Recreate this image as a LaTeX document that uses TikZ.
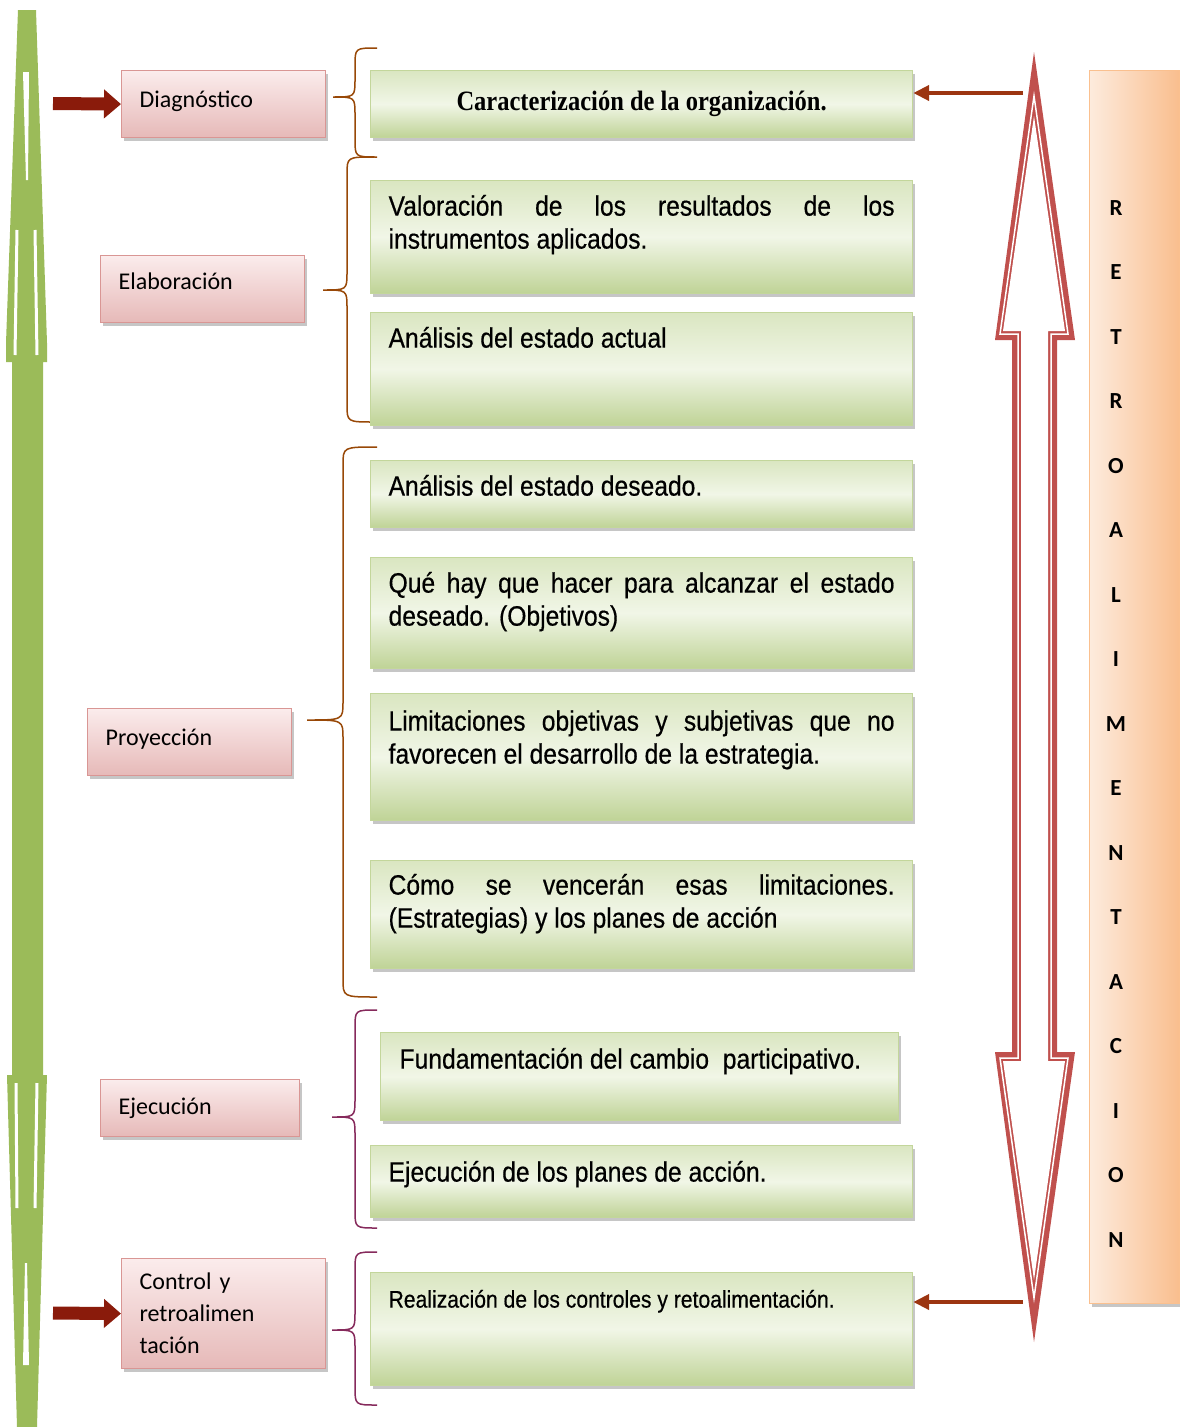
\documentclass[tikz,border=0pt]{standalone}
\usepackage{fontspec}
\setmainfont{Carlito}
\newfontfamily\boxfont[FakeStretch=0.88,FakeBold=0.5]{Liberation Sans}
\newfontfamily\serfont[FakeStretch=0.875]{Liberation Serif}
\usetikzlibrary{arrows.meta,shadows}
\definecolor{darkarrow}{HTML}{8A1B0B}
\definecolor{rarrow}{HTML}{9C3511}
\definecolor{pinkborder}{HTML}{D99694}
\definecolor{pinktop}{HTML}{FBECEC}
\definecolor{pinkbot}{HTML}{E6B9B8}
\definecolor{greenborder}{HTML}{C3D69B}
\definecolor{greentop}{HTML}{DAE6C1}
\definecolor{greenmid}{HTML}{F1F6E7}
\definecolor{greenbot}{HTML}{BFD396}
\definecolor{orangelight}{HTML}{FDEBDD}
\definecolor{orangedark}{HTML}{F9BE8E}
\definecolor{orangeborder}{HTML}{FAC08F}
\definecolor{redarrow}{HTML}{C0504D}
\definecolor{greenbar}{HTML}{9BBB59}
\definecolor{bracebrown}{HTML}{984807}
\definecolor{bracepurple}{HTML}{862A5C}
\newcommand\gtext[4]{\parbox[t][#1][t]{#2}{\hyphenpenalty=10000\exhyphenpenalty=10000\rule{0pt}{#3}#4}}
\newcommand\wbrace[7]{\draw[#7, line width=1.5pt] (#1,#4) .. controls (#2,#4) .. (#2,#4+18) -- (#2,#5-18) .. controls (#2,#5) .. (#3,#5) .. controls (#2,#5) .. (#2,#5+18) -- (#2,#6-18) .. controls (#2,#6) .. (#1,#6);}
\tikzset{
  shadowed/.style={drop shadow={shadow xshift=2pt,shadow yshift=-3pt,fill=gray!45,opacity=1}},
  pinkbox/.style={draw=pinkborder, line width=1.2pt, top color=pinktop, bottom color=pinkbot, shadowed,
    anchor=north west, inner xsep=18pt, inner ysep=0pt, text width=#1, align=left,
    font=\fontsize{24}{32}\selectfont, minimum height=67pt},
  greenbox/.style={draw=greenborder, line width=1.2pt, top color=greentop, bottom color=greenbot, middle color=greenmid, shadowed,
    anchor=north west, inner xsep=18pt, inner ysep=0pt, font=\boxfont\fontsize{28}{33}\selectfont},
  blockarrow/.style={draw=darkarrow, line width=13pt, -{Triangle[length=17pt,width=28pt]}},
  thinarrow/.style={draw=rarrow, line width=4.5pt, -{Triangle[length=16pt,width=15pt]}},
  orangebox/.style={draw=orangeborder, line width=1pt, left color=orangelight, right color=orangedark, shadowed,
    anchor=north west, minimum width=90pt, minimum height=1233pt, inner sep=0pt},
  letters/.style={font=\bfseries\fontsize{23}{64.5}\selectfont, align=center, inner sep=0pt}
}
\begin{document}
\begin{tikzpicture}[x=1pt,y=-1pt]
\useasboundingbox (0,0) rectangle (1179,1427);

% left green double arrow
\fill[greenbar] (18,10) -- (36,10) -- (47,343) -- (47,362) -- (43,362) -- (43,1075) -- (47,1075) -- (37,1427) -- (17,1427) -- (7,1075) -- (12,1075) -- (12,362) -- (6,362) -- (6,343) -- cycle;
\fill[white] (23,72) -- (29,72) -- (28,180) -- (26,180) -- cycle;
\draw[white, line width=3pt] (17,230) -- (15,355);
\draw[white, line width=3pt] (35,230) -- (37,355);
\draw[white, line width=3pt] (16,1083) -- (17,1208);
\draw[white, line width=3pt] (37,1083) -- (35,1208);
\fill[white] (25,1263) -- (27,1263) -- (29,1365) -- (23,1365) -- cycle;

% left label boxes
\node[pinkbox=168pt] (diag) at (121,70) {\raisebox{10pt}{Diagnóstico}};
\node[pinkbox=168pt] (elab) at (100,255) {\raisebox{15pt}{Elaboración}};
\node[pinkbox=168pt] (proy) at (87,708) {\raisebox{10pt}{Proyección}};
\node[pinkbox=163pt, minimum height=57pt] (ejec) at (100,1079) {Ejecución};
\node[pinkbox=168pt, minimum height=110pt] (ctrl) at (121,1258) {Control y\\retroalimen\\tación};

% block arrows
\coordinate (a1) at (53,103.5);
\coordinate (a2) at (53,1313);
\draw[blockarrow] (a1) -- (diag.west);
\draw[blockarrow] (a2) -- (ctrl.west);

% braces
\wbrace{377}{355}{333}{48}{97}{157}{bracebrown}
\wbrace{374}{347}{323}{157}{290}{422}{bracebrown}
\wbrace{377}{343}{307}{447}{720}{997}{bracebrown}
\wbrace{377}{355}{332}{1010}{1117}{1228}{bracepurple}
\wbrace{377}{355}{332}{1252}{1330}{1405}{bracepurple}

% green boxes
\node[greenbox] (carac) at (370,70) {\parbox[c][67pt][c]{506pt}{\centering\serfont\bfseries\fontsize{28}{30}\selectfont Caracterización de la organización.}};
\node[greenbox] (val) at (370,180) {\gtext{113pt}{506pt}{35pt}{Valoración de los resultados de los instrumentos aplicados.}};
\node[greenbox] (act) at (370,312) {\gtext{113pt}{506pt}{35pt}{Análisis del estado actual}};
\node[greenbox] (des) at (370,460) {\gtext{67pt}{506pt}{35pt}{Análisis del estado deseado.}};
\node[greenbox] (obj) at (370,557) {\gtext{111pt}{506pt}{35pt}{Qué hay que hacer para alcanzar el estado deseado. (Objetivos)}};
\node[greenbox] (lim) at (370,693) {\gtext{127pt}{506pt}{37pt}{Limitaciones objetivas y subjetivas que no favorecen el desarrollo de la estrategia.}};
\node[greenbox] (est) at (370,860) {\gtext{108pt}{506pt}{34pt}{Cómo se vencerán esas limitaciones. (Estrategias) y los planes de acción}};
\node[greenbox, inner xsep=19pt] (fund) at (380,1032) {\gtext{88pt}{480pt}{36pt}{Fundamentación del cambio\ \ participativo.}};
\node[greenbox] (plan) at (370,1145) {\gtext{72pt}{506pt}{36pt}{Ejecución de los planes de acción.}};
\node[greenbox, font=\boxfont\fontsize{24}{29}\selectfont] (real) at (370,1272) {\gtext{113pt}{506pt}{35pt}{Realización de los controles y retoalimentación.}};

% red double arrow
\fill[redarrow] (1034,52) -- (1075,340) -- (1057,340) -- (1057,1052) -- (1075,1052) -- (1034,1342) -- (995,1052) -- (1012,1052) -- (1012,340) -- (995,340) -- cycle;
\fill[white] (1034,116) -- (1065,331) -- (1048,331) -- (1048,1061) -- (1065,1061) -- (1034,1280) -- (1003,1061) -- (1021,1061) -- (1021,331) -- (1003,331) -- cycle;
\draw[white, line width=1.5pt, line join=miter] (1034,96) -- (1068,334) -- (1051,334) -- (1051,1058) -- (1068,1058) -- (1034,1298) -- (1000,1058) -- (1018,1058) -- (1018,334) -- (1000,334) -- cycle;

% thin arrows into boxes
\coordinate (r1) at (1023,93);
\coordinate (r2) at (1023,1302);
\draw[thinarrow] (r1) -- (carac.east |- r1);
\draw[thinarrow] (r2) -- (real.east |- r2);

% retroalimentacion
\node[orangebox] (retro) at (1089,70) {};
\node[letters] (retrotext) at (1116,724) {R\\E\\T\\R\\O\\A\\L\\I\\M\\E\\N\\T\\A\\C\\I\\O\\N};
\end{tikzpicture}
\end{document}
